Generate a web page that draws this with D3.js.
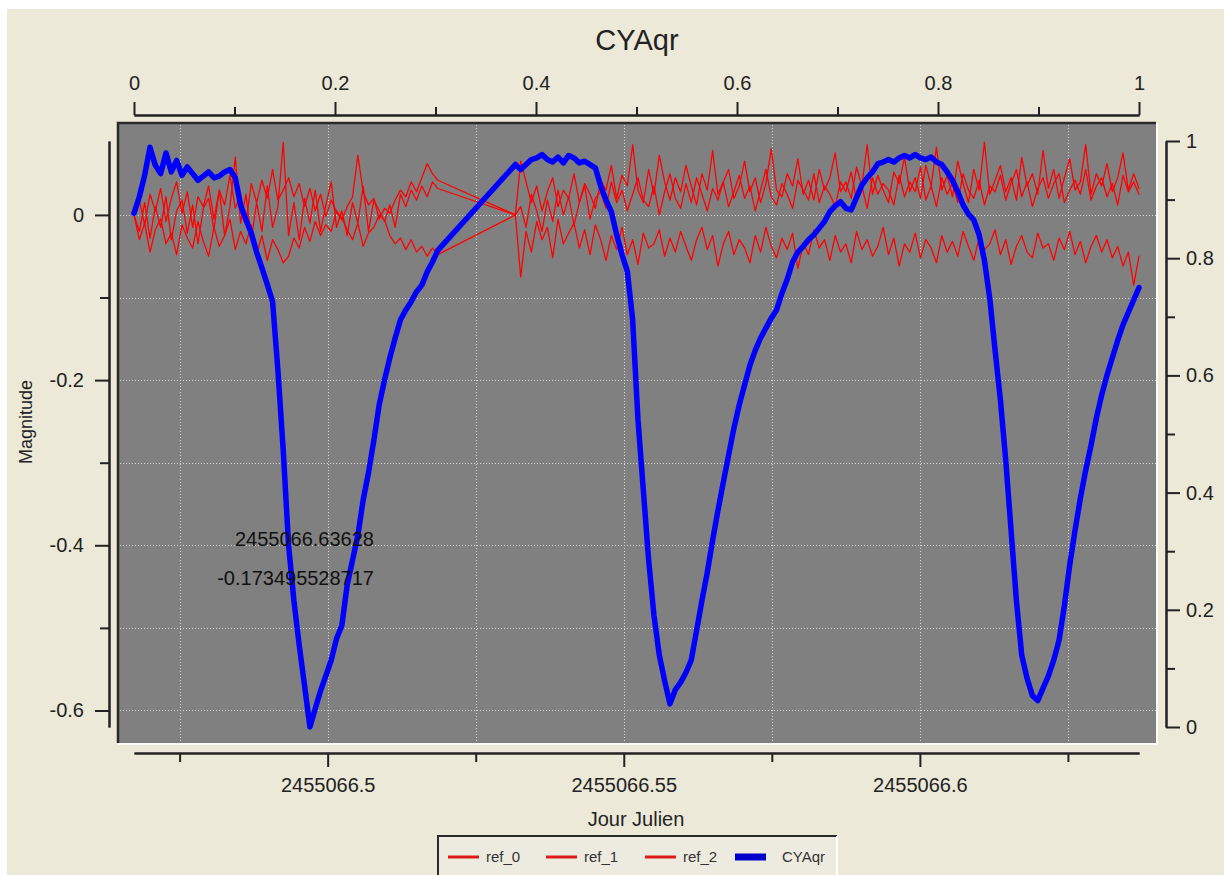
<!DOCTYPE html>
<html>
<head>
<meta charset="utf-8">
<script src="https://cdn.jsdelivr.net/npm/d3@7"></script>
<style>
  body { margin: 0; background: #fff; }
  svg { display: block; font-family: "Liberation Sans", Arial, sans-serif; }
</style>
</head>
<body>
<div id="chart"></div>
<script>
// Observation times, in units of 1e-4 day after JD 2455066.4 (shared by all series)
const jdTime = [
  673, 682, 691, 700, 709, 718, 727, 736, 745, 754,
  763, 772, 781, 790, 799, 808, 817, 826, 835, 844,
  853, 862, 871, 880, 889, 898, 907, 916, 925, 934,
  943, 952, 961, 970, 979, 988, 997, 1006, 1015, 1024,
  1033, 1042, 1051, 1060, 1069, 1078, 1087, 1096, 1105, 1114,
  1123, 1132, 1141, 1150, 1159, 1168, 1177, 1186,
  1317, 1326, 1335, 1344, 1353, 1362, 1371, 1380, 1389, 1398,
  1407, 1416, 1425, 1434, 1443, 1452, 1461, 1470, 1479, 1488,
  1497, 1506, 1515, 1524, 1533, 1542, 1551, 1560, 1569, 1578,
  1587, 1596, 1605, 1614, 1623, 1632, 1641, 1650, 1659, 1668,
  1677, 1686, 1695, 1704, 1713, 1722, 1731, 1740, 1749, 1758,
  1767, 1776, 1785, 1794, 1803, 1812, 1821, 1830, 1839, 1848,
  1857, 1866, 1875, 1884, 1893, 1902, 1911, 1920, 1929, 1938,
  1947, 1956, 1965, 1974, 1983, 1992, 2001, 2010, 2019, 2028,
  2037, 2046, 2055, 2064, 2073, 2082, 2091, 2100, 2109, 2118,
  2127, 2136, 2145, 2154, 2163, 2172, 2181, 2190, 2199, 2208,
  2217, 2226, 2235, 2244, 2253, 2262, 2271, 2280, 2289, 2298,
  2307, 2316, 2325, 2334, 2343, 2352, 2361, 2370
];

// Magnitudes in millimag
const ref0 = [
  0, 18, -12, 25, 5, 32, -8, 20, 40, 2,
  28, -15, 22, 10, 35, -5, 30, 12, 48, 8,
  25, -10, 38, 15, 42, 20, 55, 18, 30, 45,
  22, 38, 10, 32, 5, 25, -2, 18, 4, -6,
  10, 22, 72, 28, 12, 20, -5, 8, 2, 18,
  30, 22, 40, 28, 45, 62, 50, 42,
  0, 65, 40, 15, 35, 5, 28, 45, 10, 30,
  20, 50, 15, 38, 25, 8, 42, 30, 60, 20,
  48, 35, 85, 30, 15, 55, 25, 72, 40, 18,
  45, 28, 60, 35, 12, 50, 30, 78, 25, 40,
  55, 20, 35, 65, 28, 45, 15, 38, 80, 30,
  22, 50, 35, 68, 25, 42, 18, 55, 30, 45,
  75, 28, 40, 20, 58, 35, 85, 25, 48, 30,
  15, 52, 38, 70, 28, 45, 20, 60, 35, 82,
  30, 48, 22, 65, 38, 15, 55, 30, 88, 25,
  42, 60, 28, 45, 18, 70, 35, 50, 25, 78,
  32, 55, 20, 45, 68, 30, 40, 85, 25, 50,
  35, 62, 28, 45, 75, 30, 50, 32
];

const ref1 = [
  0, -20, 15, -28, 10, -15, 22, -30, 5, 18,
  -22, 12, -35, 8, 20, -18, 30, -25, 10, 70,
  -10, 25, -30, 15, -20, 35, -15, 10, 88, -25,
  15, -30, 20, -10, 30, -20, 12, 40, -15, 5,
  -25, 15, -10, 35, -20, 18, 5, -8, 12, -15,
  25, 10, 30, 18, 35, 22, 40, 32,
  0, 10, -15, 25, 5, -20, 18, -8, 30, 0,
  22, -12, 15, 35, -5, 20, 28, 8, 40, 15,
  30, 5, 25, 45, 18, 10, 35, 0, 28, 50,
  20, 8, 38, 15, 45, 25, 5, 32, 18, 40,
  10, 28, 48, 20, 35, 5, 30, 55, 22, 12,
  38, 25, 8, 42, 30, 18, 50, 15, 35, 25,
  10, 40, 28, 52, 18, 35, 8, 45, 25, 38,
  30, 12, 48, 22, 40, 28, 58, 18, 35, 10,
  45, 25, 38, 15, 50, 30, 20, 42, 12, 35,
  28, 48, 18, 38, 55, 22, 40, 10, 32, 45,
  20, 38, 50, 15, 30, 42, 25, 55, 18, 35,
  45, 22, 38, 12, 48, 28, 40, 25
];

const ref2 = [
  0, -30, -10, -45, -18, -5, -35, -22, -48, -12,
  -28, -40, -8, -32, -50, -15, -38, -25, -5, -42,
  -20, -35, -12, -48, -25, -55, -30, -42, -58, -50,
  -28, -40, -15, -32, -8, -25, -12, -20, 5, -4,
  -18, -30, -10, -38, -22, -15, 0, -6, -25, -35,
  -28, -42, -30, -45, -38, -50, -40, -48,
  0, -75, -20, -45, -8, -30, -15, -52, -5, -35,
  -22, -10, -40, -18, -48, -12, -30, -55, -25, -42,
  -15, -48, -30, -60, -22, -40, -35, -18, -50, -28,
  -45, -20, -38, -55, -30, -15, -42, -25, -62, -35,
  -20, -48, -30, -40, -58, -25, -45, -15, -38, -52,
  -28, -42, -22, -65, -35, -48, -18, -40, -30, -55,
  -25, -45, -35, -58, -20, -42, -30, -50, -38, -15,
  -48, -28, -62, -35, -45, -22, -52, -30, -40, -58,
  -25, -45, -32, -50, -20, -38, -55, -28, -42, -35,
  -18, -48, -30, -60, -38, -25, -45, -52, -22, -40,
  -35, -55, -28, -42, -20, -48, -32, -58, -38, -25,
  -45, -30, -52, -38, -62, -45, -85, -50
];

const cyaqr = [
  2, 22, 48, 82, 60, 50, 75, 52, 66, 48,
  58, 50, 42, 47, 52, 45, 47, 52, 55, 45,
  12, -6, -22, -45, -64, -84, -105, -188, -285, -400,
  -467, -521, -570, -620, -598, -576, -558, -539, -513, -497,
  -448, -418, -388, -345, -312, -273, -230, -200, -173, -149,
  -127, -115, -105, -93, -85, -69, -57, -43,
  61, 55, 61, 67, 69, 73, 67, 64, 70, 63,
  72, 69, 63, 65, 61, 57, 35, 18, 4, -24,
  -48, -68, -127, -248, -333, -418, -485, -533, -564, -592,
  -575, -566, -554, -539, -503, -467, -433, -394, -358, -324,
  -291, -258, -230, -206, -182, -164, -149, -137, -125, -115,
  -95, -78, -57, -45, -38, -30, -24, -16, -8, 4,
  11, 16, 8, 6, 21, 36, 45, 52, 62, 64,
  67, 64, 69, 72, 69, 73, 69, 67, 70, 64,
  61, 52, 42, 28, 12, 1, -6, -24, -55, -101,
  -164, -224, -297, -382, -467, -533, -561, -582, -588, -573,
  -558, -539, -515, -473, -424, -382, -343, -309, -279, -246,
  -218, -194, -173, -152, -133, -118, -103, -88
];

const seriesNames = ["ref_0", "ref_1", "ref_2", "CYAqr"];
const jdTicksMajor = [0.5, 0.55, 0.6];
const jdTicksMinor = [0.475, 0.525, 0.575, 0.625];
const magTicksMajor = [0, -0.2, -0.4, -0.6];
const magTicksMinor = [-0.1, -0.3, -0.5];
const unitTicksMajor = [0, 0.2, 0.4, 0.6, 0.8, 1];
const unitTicksMinor = [0.1, 0.3, 0.5, 0.7, 0.9];
const readoutLines = ["2455066.63628", "-0.173495528717"];

const width = 1224;
const height = 875;
const ink = "#222";
const colors = { ref_0: "#ff0000", ref_1: "#ff0000", ref_2: "#ff0000", CYAqr: "#0000ff" };

const svg = d3.select("#chart")
  .append("svg")
  .attr("width", width)
  .attr("height", height);

// window-style background
svg.append("rect")
  .attr("x", 7).attr("y", 9)
  .attr("width", width - 7).attr("height", height - 9)
  .attr("fill", "#ECE9D8");

const plot = { left: 118, top: 123, right: 1156, bottom: 743 };

const x = d3.scaleLinear().domain([0.4673, 0.6370]).range([134, 1139]);
const y = d3.scaleLinear().domain([-0.62, 0.0895]).range([727, 141]);
const xUnit = d3.scaleLinear().domain([0, 1]).range([134, 1139]);
const yUnit = d3.scaleLinear().domain([0, 1]).range([727, 141]);

// plot frame
svg.append("rect")
  .attr("x", plot.left).attr("y", plot.top)
  .attr("width", plot.right - plot.left).attr("height", plot.bottom - plot.top)
  .attr("fill", "#808080");
svg.append("path")
  .attr("d", `M${plot.left},${plot.bottom} V${plot.top} H${plot.right}`)
  .attr("fill", "none").attr("stroke", "#2a2a2a").attr("stroke-width", 2.5);
svg.append("path")
  .attr("d", `M${plot.left},${plot.bottom + 1} H${plot.right + 1} V${plot.top}`)
  .attr("fill", "none").attr("stroke", "#fbfbf8").attr("stroke-width", 2);

// dotted grid
const grid = svg.append("g")
  .attr("stroke", "#d4d4d4")
  .attr("stroke-width", 1)
  .attr("stroke-dasharray", "1,2");
grid.selectAll("line.vx")
  .data(jdTicksMajor.concat(jdTicksMinor))
  .enter().append("line")
  .attr("x1", d => Math.round(x(d)) + 0.5).attr("x2", d => Math.round(x(d)) + 0.5)
  .attr("y1", plot.top + 2).attr("y2", plot.bottom);
grid.selectAll("line.hy")
  .data(magTicksMajor.concat(magTicksMinor))
  .enter().append("line")
  .attr("x1", plot.left + 2).attr("x2", plot.right)
  .attr("y1", d => Math.round(y(d)) + 0.5).attr("y2", d => Math.round(y(d)) + 0.5);

// series
const seriesValues = [ref0, ref1, ref2, cyaqr];
const line = d3.line()
  .x(d => x(d[0]))
  .y(d => y(d[1]));

seriesNames.forEach((name, k) => {
  const pts = jdTime.map((t, i) => [0.4 + t / 10000, seriesValues[k][i] / 1000]);
  const isStar = name === "CYAqr";
  svg.append("path")
    .datum(pts)
    .attr("d", line)
    .attr("fill", "none")
    .attr("stroke", colors[name])
    .attr("stroke-width", isStar ? 5.5 : 1.3)
    .attr("stroke-linejoin", "round")
    .attr("stroke-linecap", "round");
});

// cursor readout
svg.selectAll("text.readout")
  .data(readoutLines)
  .enter().append("text")
  .attr("class", "readout")
  .attr("x", 374)
  .attr("y", (d, i) => 546 + i * 39)
  .attr("text-anchor", "end")
  .attr("font-size", 20)
  .attr("fill", "#111")
  .text(d => d);

// axes helper: minor ticks then labelled major ticks
function styleAxis(g, size) {
  g.attr("font-family", null).attr("font-size", size);
  g.selectAll("path.domain").attr("stroke", ink).attr("stroke-width", 2);
  g.selectAll(".tick line").attr("stroke", ink).attr("stroke-width", 2);
  g.selectAll(".tick text").attr("fill", ink);
}

const fmtMag = d => String(+d.toFixed(1));
const fmtUnit = d => String(+d.toFixed(1));
const fmtJD = d => "2455066" + String(+d.toFixed(3)).slice(1);

// bottom
const gBottom = svg.append("g").attr("transform", "translate(0,753)");
gBottom.append("g").call(d3.axisBottom(x).tickValues(jdTicksMinor).tickSize(9).tickSizeOuter(0).tickFormat(""))
  .call(g => styleAxis(g, 20));
gBottom.append("g").call(d3.axisBottom(x).tickValues(jdTicksMajor).tickSize(14).tickSizeOuter(0).tickPadding(11).tickFormat(fmtJD))
  .call(g => styleAxis(g, 20));

// top
const gTop = svg.append("g").attr("transform", "translate(0,115)");
gTop.append("g").call(d3.axisTop(xUnit).tickValues(unitTicksMinor).tickSize(8).tickSizeOuter(0).tickFormat(""))
  .call(g => styleAxis(g, 20));
gTop.append("g").call(d3.axisTop(xUnit).tickValues(unitTicksMajor).tickSize(13).tickSizeOuter(0).tickPadding(12).tickFormat(fmtUnit))
  .call(g => styleAxis(g, 20));

// left
const gLeft = svg.append("g").attr("transform", "translate(109,0)");
gLeft.append("g").call(d3.axisLeft(y).tickValues(magTicksMinor).tickSize(9).tickSizeOuter(0).tickFormat(""))
  .call(g => styleAxis(g, 20));
gLeft.append("g").call(d3.axisLeft(y).tickValues(magTicksMajor).tickSize(14).tickSizeOuter(0).tickPadding(11).tickFormat(fmtMag))
  .call(g => styleAxis(g, 20));

// right
const gRight = svg.append("g").attr("transform", "translate(1166,0)");
gRight.append("g").call(d3.axisRight(yUnit).tickValues(unitTicksMinor).tickSize(9).tickSizeOuter(0).tickFormat(""))
  .call(g => styleAxis(g, 20));
gRight.append("g").call(d3.axisRight(yUnit).tickValues(unitTicksMajor).tickSize(14).tickSizeOuter(0).tickPadding(6).tickFormat(fmtUnit))
  .call(g => styleAxis(g, 20));

// titles
svg.append("text")
  .attr("x", 637).attr("y", 50)
  .attr("text-anchor", "middle")
  .attr("font-size", 29)
  .attr("fill", ink)
  .text("CYAqr");

svg.append("text")
  .attr("x", 636).attr("y", 826)
  .attr("text-anchor", "middle")
  .attr("font-size", 20)
  .attr("fill", ink)
  .text("Jour Julien");

svg.append("text")
  .attr("transform", "translate(32,422) rotate(-90)")
  .attr("text-anchor", "middle")
  .attr("font-size", 18)
  .attr("fill", ink)
  .text("Magnitude");

// legend
const legend = svg.append("g").attr("transform", "translate(437,835)");
legend.append("rect")
  .attr("width", 400).attr("height", 45)
  .attr("fill", "#EDEBE0");
legend.append("path")
  .attr("d", "M1,45 V1 H400")
  .attr("fill", "none").attr("stroke", "#2a2a2a").attr("stroke-width", 2);
legend.append("path")
  .attr("d", "M400,1 V45")
  .attr("fill", "none").attr("stroke", "#ffffff").attr("stroke-width", 2);

const legendX = [11, 109, 208, 298];
const item = legend.selectAll("g.item")
  .data(seriesNames)
  .enter().append("g")
  .attr("class", "item")
  .attr("transform", (d, i) => `translate(${legendX[i]},22)`);
item.append("line")
  .attr("x1", 0).attr("x2", 31)
  .attr("stroke", d => d === "CYAqr" ? "#0000cc" : "#dd1a1a")
  .attr("stroke-width", d => d === "CYAqr" ? 7 : 3);
item.append("text")
  .attr("x", d => d === "CYAqr" ? 47 : 38)
  .attr("dy", "0.35em")
  .attr("font-size", 15)
  .attr("fill", "#333")
  .text(d => d);
</script>
</body>
</html>
